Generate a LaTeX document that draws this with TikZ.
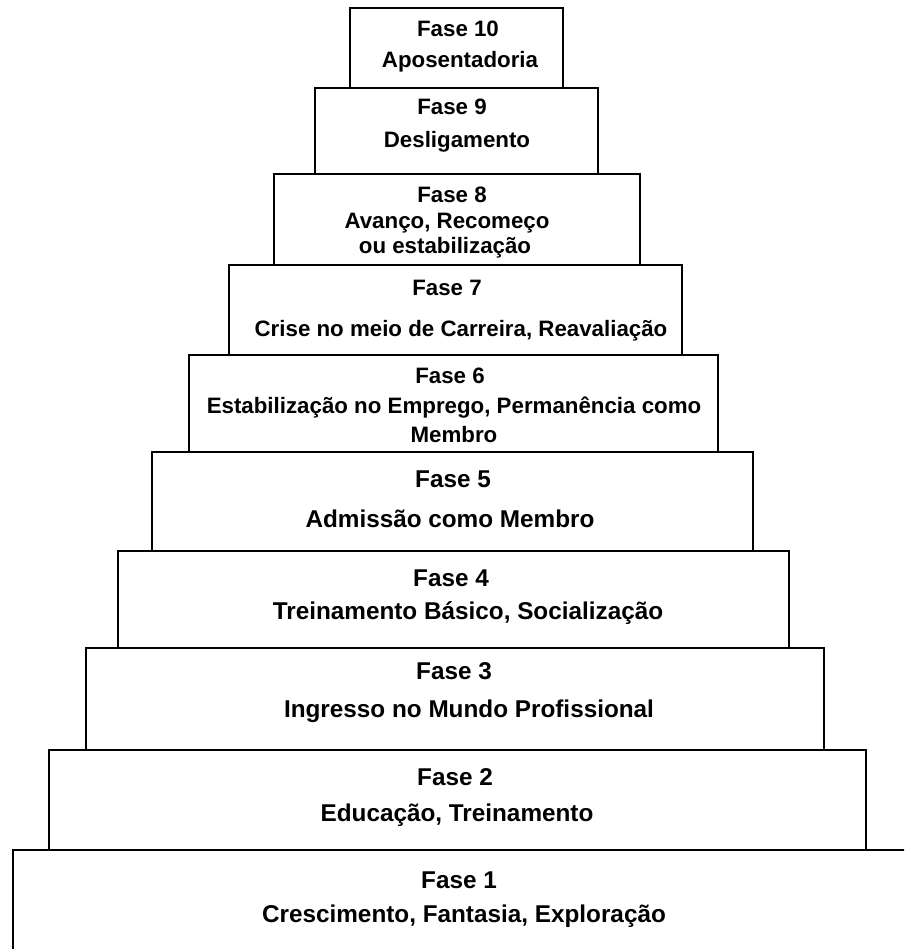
\documentclass[tikz,border=0pt]{standalone}
\usepackage{fontspec}
\setmainfont{Liberation Sans}
\begin{document}
\begin{tikzpicture}[x=1pt,y=-1pt]
\tikzset{
  box/.style={draw=black, line width=1.3pt, rectangle, inner sep=0pt, outer sep=0pt},
  up/.style={anchor=base, font=\fontsize{22.3}{24}\selectfont\bfseries, inner sep=0pt},
  low/.style={anchor=base, font=\fontsize{24.3}{26}\selectfont\bfseries, inner sep=0pt}
}
\useasboundingbox (0,0) rectangle (904,949);
\clip (0,0) rectangle (904,949);
\fill[white] (0,0) rectangle (904,949);
% boxes
\node[box, minimum width=907pt, minimum height=110pt] (b1) at (466.5,905) {};
\node[box, minimum width=817pt, minimum height=100pt] (b2) at (457.5,800) {};
\node[box, minimum width=738pt, minimum height=102pt] (b3) at (455,699) {};
\node[box, minimum width=671pt, minimum height=97pt] (b4) at (453.5,599.5) {};
\node[box, minimum width=601pt, minimum height=99pt] (b5) at (452.5,501.5) {};
\node[box, minimum width=529pt, minimum height=97pt] (b6) at (453.5,403.5) {};
\node[box, minimum width=453pt, minimum height=90pt] (b7) at (455.5,310) {};
\node[box, minimum width=366pt, minimum height=91pt] (b8) at (457,219.5) {};
\node[box, minimum width=283pt, minimum height=86pt] (b9) at (456.5,131) {};
\node[box, minimum width=213pt, minimum height=80pt] (b10) at (456.5,48) {};
% texts
\node[up] (t10a) at (458,37) {Fase 10};
\node[up] (t10b) at (460,68) {Aposentadoria};
\node[up] (t9a) at (452,115) {Fase 9};
\node[up] (t9b) at (457,148) {Desligamento};
\node[up] (t8a) at (452,203) {Fase 8};
\node[up] (t8b) at (447,229) {Avanço, Recomeço};
\node[up] (t8c) at (445,254) {ou estabilização};
\node[up] (t7a) at (447,295) {Fase 7};
\node[up] (t7b) at (461,336) {Crise no meio de Carreira, Reavaliação};
\node[up] (t6a) at (450,383) {Fase 6};
\node[up] (t6b) at (454,413) {Estabilização no Emprego, Permanência como};
\node[up] (t6c) at (454,442) {Membro};
\node[low] (t5a) at (453,487) {Fase 5};
\node[low] (t5b) at (450,527) {Admissão como Membro};
\node[low] (t4a) at (451,586) {Fase 4};
\node[low] (t4b) at (468,619) {Treinamento Básico, Socialização};
\node[low] (t3a) at (454,679) {Fase 3};
\node[low] (t3b) at (469,717) {Ingresso no Mundo Profissional};
\node[low] (t2a) at (455,785) {Fase 2};
\node[low] (t2b) at (457,821) {Educação, Treinamento};
\node[low] (t1a) at (459,888) {Fase 1};
\node[low] (t1b) at (464,922) {Crescimento, Fantasia, Exploração};
\end{tikzpicture}
\end{document}
